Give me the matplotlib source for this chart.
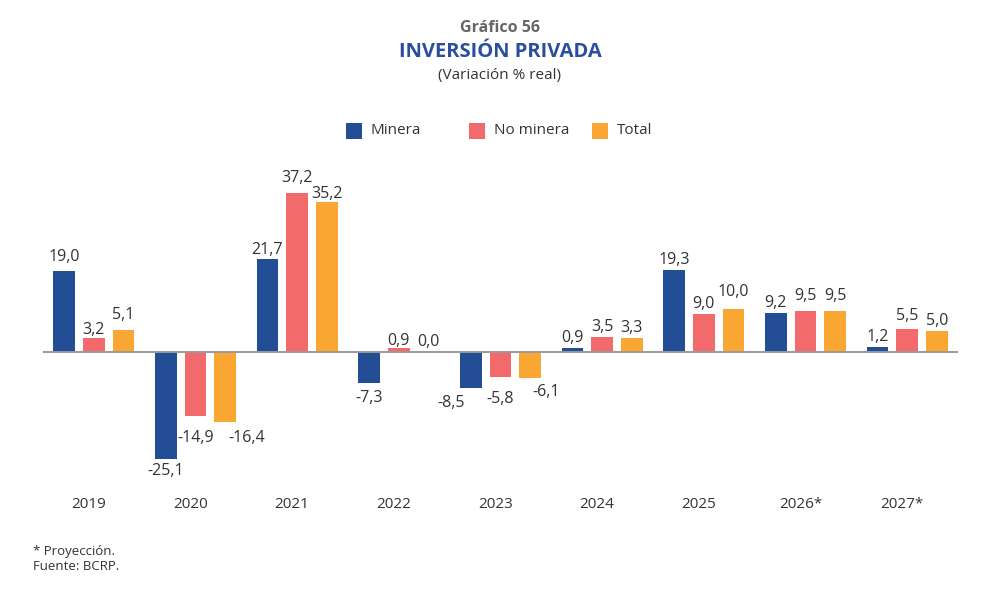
import matplotlib
matplotlib.use("Agg")
import matplotlib.pyplot as plt
import matplotlib.transforms as mtransforms
from matplotlib.patches import Rectangle
import numpy as np

plt.rcParams['font.family'] = ['Open Sans', 'DejaVu Sans']

# ---- data ----
categories = ["2019", "2020", "2021", "2022", "2023", "2024", "2025", "2026*", "2027*"]
minera = [19.0, -25.1, 21.7, -7.3, -8.5, 0.9, 19.3, 9.2, 1.2]
no_minera = [3.2, -14.9, 37.2, 0.9, -5.8, 3.5, 9.0, 9.5, 5.5]
total = [5.1, -16.4, 35.2, 0.0, -6.1, 3.3, 10.0, 9.5, 5.0]
series_names = ["Minera", "No minera", "Total"]

# ---- style ----
colors = ["#234E96", "#F26A6C", "#F9A732"]
text_color = "#333333"
W, H = 1001, 612
DPI = 100

# label fine-tuning (px): (category, series) -> (dx, extra gap)
label_adjust = {
    (0, 0): (0, 4), (0, 1): (0, -2), (0, 2): (0, 5),
    (1, 0): (0, -3), (1, 1): (0, 7), (1, 2): (22, 1),
    (2, 0): (0, -1), (2, 1): (0, 5), (2, 2): (0, -2),
    (3, 1): (0, -3),
    (4, 0): (-20, 0), (4, 1): (0, 7), (4, 2): (16, -1),
    (6, 2): (0, 7),
    (7, 1): (0, 5), (7, 2): (0, 5),
    (8, 1): (0, 3),
}

fig = plt.figure(figsize=(W / DPI, H / DPI), dpi=DPI)
ax_left, ax_right = 43, 958
ax_top, ax_bottom = 150, 480
ax = fig.add_axes([ax_left / W, 1 - ax_bottom / H, (ax_right - ax_left) / W, (ax_bottom - ax_top) / H])

px_per_unit = 4.265
zero_px = 352
ax.set_ylim(-(ax_bottom - zero_px) / px_per_unit, (zero_px - ax_top) / px_per_unit)
ax.set_xlim(-0.5, len(categories) - 0.5)

x = np.arange(len(categories))
bw = 0.212
step = 0.292
all_series = [minera, no_minera, total]
for si, vals in enumerate(all_series):
    xs = x + (si - 1) * step
    ax.bar(xs, vals, width=bw, color=colors[si], zorder=2, linewidth=0)
    for ci, (xx, v) in enumerate(zip(xs, vals)):
        dx, extra = label_adjust.get((ci, si), (0, 0))
        lbl = f"{v:.1f}".replace(".", ",")
        if v >= 0:
            dy = 6 + extra
        else:
            dy = -(8 + extra + 11)
        ax.annotate(lbl, (xx, v), xytext=(dx * 0.72, dy * 0.72), textcoords="offset points",
                    ha="center", va="baseline", fontsize=11.5, color=text_color, zorder=3)

ax.axhline(0, color="#9a9a9a", lw=1.4, zorder=3)
for s in ax.spines.values():
    s.set_visible(False)
ax.set_yticks([])
ax.set_xticks(x)
ax.set_xticklabels(categories, fontsize=11, color=text_color)
ax.tick_params(axis="x", length=0, pad=0)
offset = mtransforms.ScaledTranslation(-5 / DPI, 0, fig.dpi_scale_trans)
for lab in ax.get_xticklabels():
    lab.set_transform(mtransforms.blended_transform_factory(ax.transData, fig.transFigure) + offset)
    lab.set_y(1 - 504 / H)
    lab.set_va("center")

# ---- titles ----
fig.text(500 / W, 1 - 28 / H, "Gráfico 56", ha="center", va="center", fontsize=11.5,
         fontweight="bold", color="#666666")
fig.text(500 / W, 1 - 52 / H, "INVERSIÓN PRIVADA", ha="center", va="center", fontsize=14.5,
         fontweight="bold", color="#2A4F9E")
fig.text(500 / W, 1 - 76 / H, "(Variación % real)", ha="center", va="center", fontsize=11,
         color=text_color)

# ---- legend ----
leg_x = [346, 469, 592]
for i, name in enumerate(series_names):
    fig.add_artist(Rectangle((leg_x[i] / W, 1 - 139 / H), 16 / W, 16 / H, transform=fig.transFigure,
                             facecolor=colors[i], edgecolor="none"))
    fig.text((leg_x[i] + 25) / W, 1 - 131 / H, name, ha="left", va="center", fontsize=11,
             color=text_color)

# ---- footnotes ----
fig.text(33 / W, 1 - 551 / H, "* Proyección.", ha="left", va="center", fontsize=9.5, color=text_color)
fig.text(33 / W, 1 - 566 / H, "Fuente: BCRP.", ha="left", va="center", fontsize=9.5, color=text_color)

fig.savefig("out.png", dpi=DPI)
